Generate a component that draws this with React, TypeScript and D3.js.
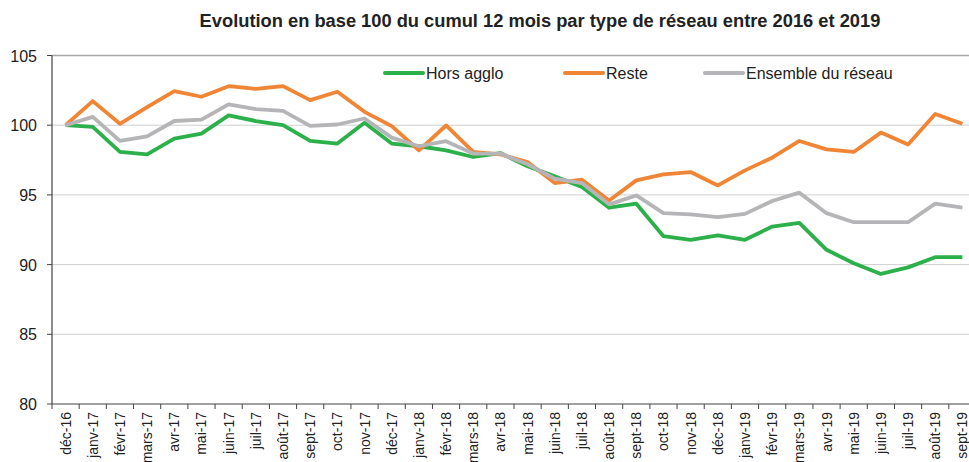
import React from "react";
import * as d3 from "d3";

const months = [
  "déc-16", "janv-17", "févr-17", "mars-17", "avr-17", "mai-17", "juin-17", "juil-17", "août-17",
  "sept-17", "oct-17", "nov-17", "déc-17", "janv-18", "févr-18", "mars-18", "avr-18", "mai-18",
  "juin-18", "juil-18", "août-18", "sept-18", "oct-18", "nov-18", "déc-18", "janv-19", "févr-19",
  "mars-19", "avr-19", "mai-19", "juin-19", "juil-19", "août-19", "sept-19",
];

const horsAgglo = [
  100, 99.88, 98.08, 97.9, 99.04, 99.4, 100.7, 100.3, 100, 98.87, 98.68, 100.17, 98.68, 98.49,
  98.2, 97.72, 98.0, 97.05, 96.33, 95.56, 94.08, 94.37, 92.04, 91.78, 92.09, 91.78, 92.73, 93.0,
  91.06, 90.1, 89.33, 89.8, 90.53, 90.53,
];

const reste = [
  100, 101.73, 100.1, 101.3, 102.45, 102.04, 102.8, 102.6, 102.8, 101.8, 102.4, 100.96, 99.93,
  98.2, 99.98, 98.08, 97.9, 97.36, 95.85, 96.09, 94.6, 96.04, 96.47, 96.64, 95.68, 96.76, 97.67,
  98.87, 98.27, 98.08, 99.47, 98.61, 100.8, 100.1,
];

const ensemble = [
  100, 100.6, 98.87, 99.2, 100.3, 100.4, 101.5, 101.15, 101.03, 99.95, 100.05, 100.48, 99.11,
  98.49, 98.85, 97.96, 97.96, 97.2, 96.16, 95.85, 94.32, 94.96, 93.69, 93.6, 93.4, 93.64, 94.56,
  95.16, 93.69, 93.04, 93.04, 93.04, 94.37, 94.08,
];

const yTicks = [80, 85, 90, 95, 100, 105];

const series = [
  { name: "Hors agglo", values: horsAgglo, color: "#2bb04a" },
  { name: "Reste", values: reste, color: "#f08535" },
  { name: "Ensemble du réseau", values: ensemble, color: "#b5b5b8" },
];

const W = 969;
const H = 462;
const font = "'Liberation Sans', Arial, sans-serif";

export default function App() {
  const x = d3.scaleBand<string>().domain(months).range([52, 976]).padding(0);
  const y = d3.scaleLinear().domain([80, 105]).range([404, 55.5]);
  const cx = (m: string) => (x(m) as number) + x.bandwidth() / 2;

  const line = d3
    .line<number>()
    .x((_, i) => cx(months[i]))
    .y((v) => y(v));

  const legendX = [385, 565, 705];

  return (
    <svg
      width={W}
      height={H}
      style={{ position: "absolute", left: 0, top: 0, background: "#fff" }}
      fontFamily={font}
    >
      <text x={540} y={27} textAnchor="middle" fontWeight="bold" fontSize={18.3} fill="#222">
        Evolution en base 100 du cumul 12 mois par type de réseau entre 2016 et 2019
      </text>

      {/* grid */}
      {yTicks.map((t) => (
        <g key={t}>
          {t > 80 && (
            <line
              x1={52}
              x2={976}
              y1={y(t)}
              y2={y(t)}
              stroke={t === 105 ? "#a6a6a6" : "#cfcfcf"}
              strokeWidth={t === 105 ? 1.5 : 1}
            />
          )}
          <line x1={47} x2={52} y1={y(t)} y2={y(t)} stroke="#444" />
          <text x={37} y={y(t) + 6} textAnchor="end" fontSize={16} fill="#222">
            {t}
          </text>
        </g>
      ))}

      {/* axes */}
      <line x1={52} x2={52} y1={y(105)} y2={y(80)} stroke="#444" strokeWidth={1.2} />
      <line x1={52} x2={976} y1={y(80)} y2={y(80)} stroke="#444" strokeWidth={1.2} />
      {months.map((m) => (
        <g key={m}>
          <line x1={x(m)} x2={x(m)} y1={y(80)} y2={y(80) + 5} stroke="#444" />
          <text
            transform={`translate(${cx(m) + 5},412) rotate(-90)`}
            textAnchor="end"
            fontSize={14}
            fill="#222"
          >
            {m}
          </text>
        </g>
      ))}

      {/* lines */}
      {series.map((s) => (
        <path
          key={s.name}
          d={line(s.values) || ""}
          fill="none"
          stroke={s.color}
          strokeWidth={3.8}
          strokeLinejoin="round"
        />
      ))}

      {/* legend */}
      {series.map((s, i) => (
        <g key={s.name} transform={`translate(${legendX[i]},73)`}>
          <line x1={0} x2={38} y1={0} y2={0} stroke={s.color} strokeWidth={4} strokeLinecap="round" />
          <text x={41} y={6} fontSize={16} fill="#222">
            {s.name}
          </text>
        </g>
      ))}
    </svg>
  );
}
